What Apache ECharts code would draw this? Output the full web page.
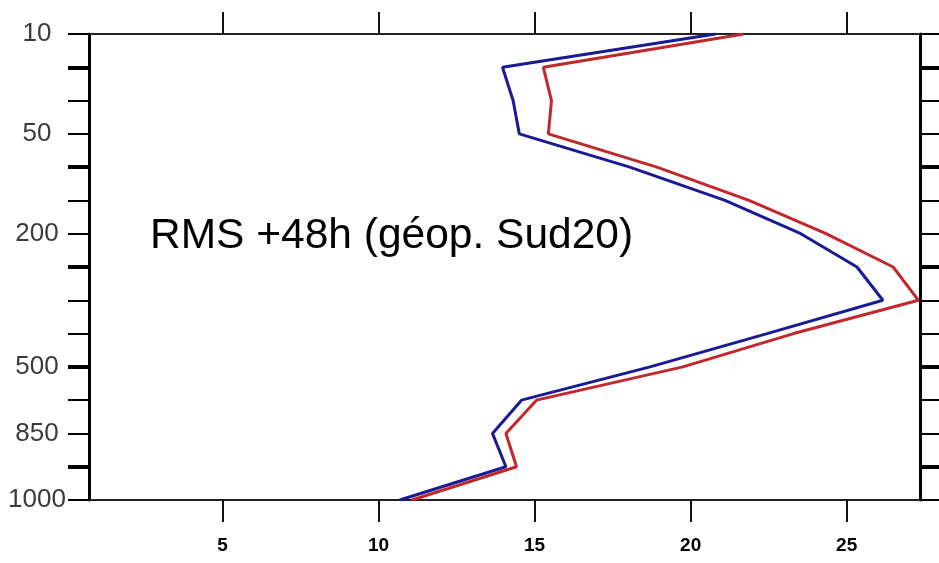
<!DOCTYPE html>
<html>
<head>
<meta charset="utf-8">
<script src="https://cdn.jsdelivr.net/npm/echarts@6/dist/echarts.min.js"></script>
<style>
  html, body { margin: 0; padding: 0; background: #ffffff; }
  #chart { width: 939px; height: 563px; }
</style>
</head>
<body>
<div id="chart"></div>
<script>
// Pressure levels (hPa), top of the profile first
const levels = ['10', '20', '30', '50', '70', '100', '200', '250', '300', '400', '500', '700', '850', '925', '1000'];
// Levels that carry a label on the vertical axis
const labelledLevels = ['10', '50', '200', '500', '850', '1000'];
// RMS error profiles, one value per level
const rmsBlue = [20.8, 13.97, 14.31, 14.51, 18.05, 21.1, 23.53, 25.33, 26.16, 22.45, 18.7, 14.58, 13.65, 14.08, 10.68];
const rmsRed  = [21.7, 15.28, 15.54, 15.44, 18.92, 21.87, 24.34, 26.49, 27.3, 23.3, 19.75, 15.06, 14.08, 14.42, 11.07];
// Horizontal axis ticks
const xTicks = [5, 10, 15, 20, 25];
const xMin = 0.72;
const xMax = 27.35;
const chartTitle = 'RMS +48h (géop. Sud20)';

const chart = echarts.init(document.getElementById('chart'), null, { renderer: 'canvas' });

const isMajorTick = (index) => index % 3 === 1;

function valueAxis(position, showLabels) {
  return {
    type: 'value',
    position: position,
    min: xMin,
    max: xMax,
    splitLine: { show: false },
    axisLine: { show: true, onZero: false, lineStyle: { color: '#222', width: 2 } },
    axisTick: {
      show: true, inside: false, length: 22,
      customValues: xTicks,
      lineStyle: { color: '#111', width: 2 }
    },
    axisLabel: {
      show: showLabels,
      customValues: xTicks,
      margin: 36,
      fontFamily: 'Liberation Sans',
      fontWeight: 'bold',
      fontSize: 19,
      color: '#000'
    }
  };
}

function levelAxis(position, opts) {
  return {
    type: 'category',
    position: position,
    data: levels,
    inverse: true,
    boundaryGap: false,
    splitLine: { show: false },
    axisLine: { show: opts.line, onZero: false, lineStyle: { color: '#000', width: 3 } },
    axisTick: {
      show: true, inside: false, length: 21,
      alignWithLabel: true,
      interval: opts.major ? isMajorTick : 0,
      lineStyle: { color: '#000', width: opts.major ? 4 : 2 }
    },
    axisLabel: {
      show: opts.labels,
      interval: (index, value) => labelledLevels.indexOf(value) >= 0,
      align: 'center',
      margin: 52,
      fontFamily: 'Liberation Sans',
      fontSize: 26,
      color: '#3a3a3a'
    }
  };
}

const option = {
  backgroundColor: '#ffffff',
  animation: false,
  grid: {
    left: 89, right: 19, top: 34, bottom: 63,
    containLabel: false,
    outerBoundsMode: 'none'
  },
  xAxis: [valueAxis('bottom', true), valueAxis('top', false)],
  yAxis: [
    levelAxis('left', { line: true, labels: true, major: false }),
    levelAxis('right', { line: true, labels: false, major: false }),
    levelAxis('left', { line: false, labels: false, major: true }),
    levelAxis('right', { line: false, labels: false, major: true })
  ],
  graphic: [{
    type: 'text',
    left: 150,
    top: 215,
    style: {
      text: chartTitle,
      font: '42.5px "Liberation Sans", Arial, sans-serif',
      fill: '#000'
    }
  }],
  series: [
    {
      name: 'blue',
      type: 'line',
      xAxisIndex: 0,
      yAxisIndex: 0,
      data: rmsBlue,
      symbol: 'none',
      lineStyle: { color: '#1a1a96', width: 3 },
      z: 3
    },
    {
      name: 'red',
      type: 'line',
      xAxisIndex: 0,
      yAxisIndex: 0,
      data: rmsRed,
      symbol: 'none',
      lineStyle: { color: '#c0282c', width: 3 },
      z: 4
    }
  ]
};

chart.setOption(option);
</script>
</body>
</html>
